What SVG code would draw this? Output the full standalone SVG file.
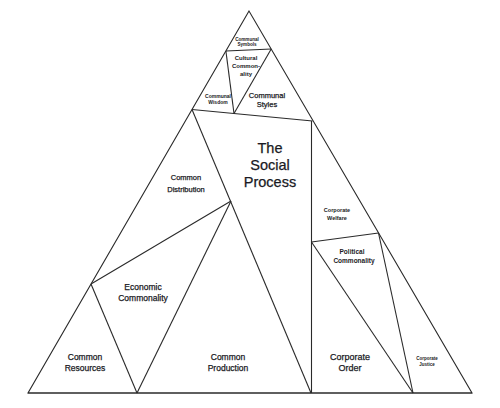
<svg xmlns="http://www.w3.org/2000/svg" width="500" height="408" viewBox="0 0 500 408">
<style>
.ln{stroke:#2a2a2a;stroke-width:1.1;fill:none;stroke-linejoin:miter}
text{font-family:"Liberation Sans",Arial,sans-serif;fill:#1a1a24;text-anchor:middle}
.m{stroke:#1a1a24;stroke-width:0.25}
.b{font-weight:bold}
</style>
<rect width="500" height="408" fill="#fff"/>
<g id="connectors">
<polygon class="ln" points="249,11 28,393 472,393"/>
<line class="ln" x1="28" y1="393" x2="472" y2="393" stroke-width="1.4"/>
<line class="ln" x1="225.9" y1="51" x2="271.2" y2="49"/>
<line class="ln" x1="225.9" y1="51" x2="234" y2="113.5"/>
<line class="ln" x1="271.2" y1="49" x2="234" y2="113.5"/>
<line class="ln" x1="192" y1="109.5" x2="312.5" y2="121"/>
<line class="ln" x1="192" y1="109.5" x2="311" y2="393"/>
<line class="ln" x1="311.5" y1="121" x2="311.5" y2="393"/>
<line class="ln" x1="231" y1="201" x2="91" y2="284"/>
<line class="ln" x1="231" y1="201" x2="137" y2="393"/>
<line class="ln" x1="91" y1="284" x2="137" y2="393"/>
<line class="ln" x1="311.5" y1="242" x2="378.5" y2="233"/>
<line class="ln" x1="311.5" y1="242" x2="413" y2="393"/>
<line class="ln" x1="378.5" y1="233" x2="413" y2="393"/>
</g>
<g id="communal-symbols"><text class="b" font-size="4.6" x="247" y="40.5">Communal</text><text class="b" font-size="4.6" x="247" y="46">Symbols</text></g>
<g id="cultural-commonality"><text class="b" font-size="6" x="246" y="60">Cultural</text><text class="b" font-size="6" x="246" y="68">Common-</text><text class="b" font-size="6" x="246" y="76">ality</text></g>
<g id="communal-wisdom"><text class="b" font-size="5" x="218" y="98">Communal</text><text class="b" font-size="5" x="218" y="104">Wisdom</text></g>
<g id="communal-styles"><text class="m" font-size="7.5" x="267" y="98">Communal</text><text class="m" font-size="7.5" x="267" y="107">Styles</text></g>
<g id="social-process"><text class="m" font-size="14.5" x="270" y="153">The</text><text class="m" font-size="14.5" x="270" y="170">Social</text><text class="m" font-size="14.5" x="270" y="187">Process</text></g>
<g id="common-distribution"><text class="m" font-size="7.5" x="186" y="180">Common</text><text class="m" font-size="7.5" x="186" y="192">Distribution</text></g>
<g id="economic-commonality"><text class="m" font-size="8.5" x="143" y="290">Economic</text><text class="m" font-size="8.5" x="143" y="301">Commonality</text></g>
<g id="common-resources"><text class="m" font-size="8.5" x="85" y="360">Common</text><text class="m" font-size="8.5" x="85" y="371">Resources</text></g>
<g id="common-production"><text class="m" font-size="8.5" x="228" y="360">Common</text><text class="m" font-size="8.5" x="228" y="371">Production</text></g>
<g id="corporate-welfare"><text class="b" font-size="5.5" x="337" y="212">Corporate</text><text class="b" font-size="5.5" x="337" y="220">Welfare</text></g>
<g id="political-commonality"><text class="b" font-size="6.5" x="352" y="254">Political</text><text class="b" font-size="6.5" x="354" y="263">Commonality</text></g>
<g id="corporate-order"><text class="m" font-size="9" x="350" y="360">Corporate</text><text class="m" font-size="9" x="350" y="371">Order</text></g>
<g id="corporate-justice"><text class="b" font-size="4.5" x="427" y="360">Corporate</text><text class="b" font-size="4.5" x="427" y="366">Justice</text></g>
</svg>
